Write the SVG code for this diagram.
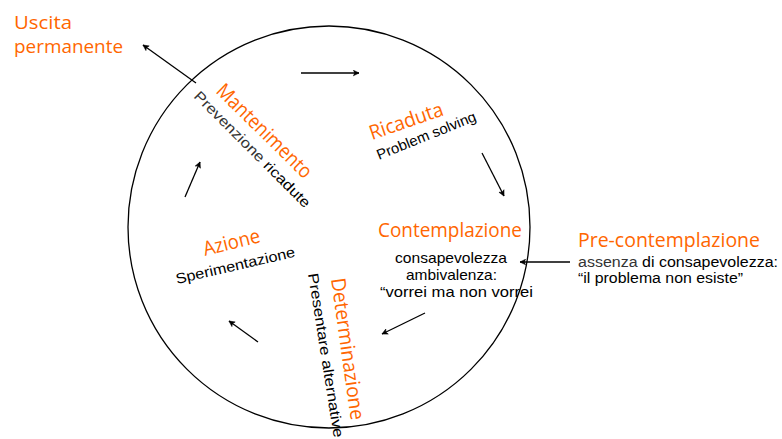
<svg xmlns="http://www.w3.org/2000/svg" width="782" height="439" viewBox="0 0 782 439">
<style>
text{font-family:"Open Sans","Noto Sans","Liberation Sans",sans-serif;}
.t{fill:#FF6600;font-size:20px;}
.u{font-size:17.5px;}
.s{fill:#000;font-size:14.5px;font-family:"Liberation Sans",sans-serif;}
.p{font-size:14px;}
.g{fill:#333;}
.c{fill:none;stroke:#000;stroke-width:1.3;marker-end:url(#ah);}
</style>
<defs>
<marker id="ah" viewBox="0 0 10 10" refX="9" refY="5" markerWidth="7" markerHeight="7" orient="auto" markerUnits="userSpaceOnUse">
<path d="M1,1 L9,5 L1,9 L3,5 Z" fill="#000" stroke="#000" stroke-width="0.8"/>
</marker>
</defs>
<rect width="782" height="439" fill="#fff"/>
<g id="cycle">
<circle cx="329" cy="227" r="201" fill="none" stroke="#000" stroke-width="1.3"/>
</g>
<g id="connectors">
<line class="c" x1="196" y1="83" x2="143" y2="45"/>
<line class="c" x1="301" y1="73" x2="359" y2="73"/>
<line class="c" x1="482" y1="153" x2="504" y2="196"/>
<line class="c" x1="570" y1="262" x2="520" y2="262"/>
<line class="c" x1="425" y1="313" x2="382" y2="334"/>
<line class="c" x1="258" y1="342" x2="229" y2="321"/>
<line class="c" x1="185" y1="197" x2="200" y2="162"/>
</g>
<g id="uscita">
<text class="t u" x="14" y="29" textLength="58" lengthAdjust="spacingAndGlyphs">Uscita</text>
<text class="t u" x="14" y="53" textLength="109" lengthAdjust="spacingAndGlyphs">permanente</text>
</g>
<g id="mantenimento">
<text class="t" transform="translate(215,92) rotate(44.5)" textLength="125" lengthAdjust="spacingAndGlyphs">Mantenimento</text>
<text class="s" transform="translate(193,97) rotate(45)" textLength="158" lengthAdjust="spacingAndGlyphs"><tspan class="g">Prevenzione</tspan> ricadute</text>
</g>
<g id="ricaduta">
<text class="t" transform="translate(372,140) rotate(-19)" textLength="77" lengthAdjust="spacingAndGlyphs">Ricaduta</text>
<text class="s" transform="translate(379,160) rotate(-22)" textLength="106" lengthAdjust="spacingAndGlyphs">Problem solving</text>
</g>
<g id="contemplazione">
<text class="t" x="378" y="237" textLength="144" lengthAdjust="spacingAndGlyphs">Contemplazione</text>
<text class="s" x="395" y="263" textLength="112" lengthAdjust="spacingAndGlyphs">consapevolezza</text>
<text class="s" x="406" y="280" textLength="91" lengthAdjust="spacingAndGlyphs">ambivalenza:</text>
<text class="s" x="380" y="297" textLength="153" lengthAdjust="spacingAndGlyphs">“vorrei ma non vorrei</text>
</g>
<g id="precontemplazione">
<text class="t" x="578" y="247" textLength="182" lengthAdjust="spacingAndGlyphs">Pre-contemplazione</text>
<text class="s p" x="578" y="267" textLength="200" lengthAdjust="spacingAndGlyphs"><tspan class="g">assenza</tspan> di consapevolezza:</text>
<text class="s p" x="578" y="283" textLength="165" lengthAdjust="spacingAndGlyphs">“il problema non esiste”</text>
</g>
<g id="determinazione">
<text class="t" transform="translate(331,279) rotate(82)" textLength="143" lengthAdjust="spacingAndGlyphs">Determinazione</text>
<text class="s" transform="translate(308,274) rotate(81)" textLength="166" lengthAdjust="spacingAndGlyphs">Presentare alternative</text>
</g>
<g id="azione">
<text class="t" transform="translate(205,256) rotate(-14)" textLength="58" lengthAdjust="spacingAndGlyphs">Azione</text>
<text class="s" transform="translate(177,284) rotate(-13)" textLength="122" lengthAdjust="spacingAndGlyphs">Sperimentazione</text>
</g>
</svg>
